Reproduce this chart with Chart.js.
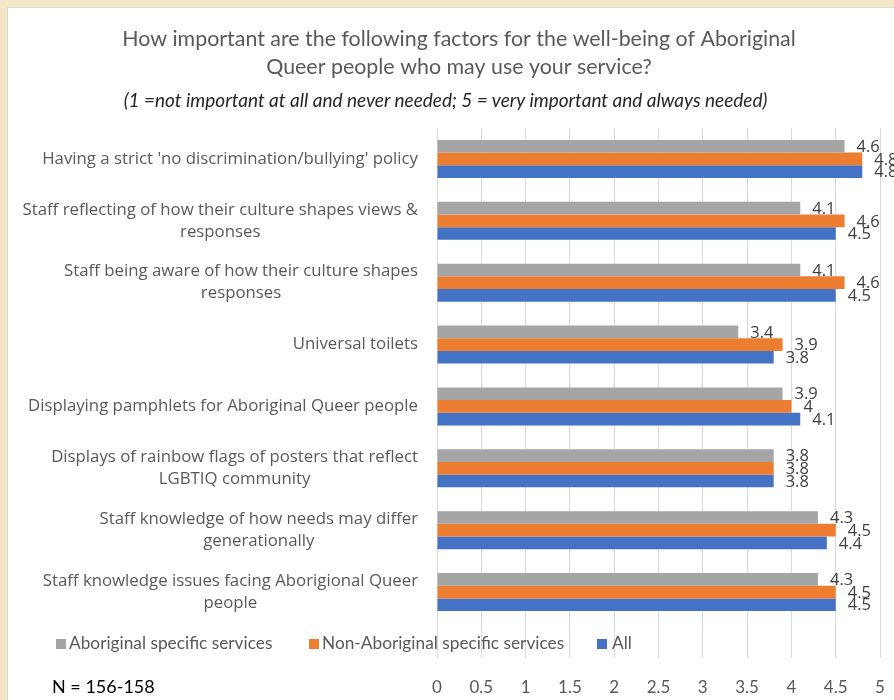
<!DOCTYPE html>
<html>
<head>
<meta charset="utf-8">
<script src="https://cdn.jsdelivr.net/npm/chart.js@4.4.1/dist/chart.umd.min.js"></script>
<style>
  html, body { margin: 0; padding: 0; width: 894px; height: 700px; overflow: hidden; background: #f3e7c6; }
  #card { position: absolute; left: 7px; top: 7px; width: 903px; height: 693px; background: #fff;
          border-left: 1px solid #d9d9d9; border-top: 1px solid #d9d9d9; }
  #card canvas { position: absolute; left: 0; top: 0; }
  #sub { position: absolute; left: 0; top: 89px; width: 891px; text-align: center; white-space: nowrap;
         font: italic 19px Lato, sans-serif; color: #262626; line-height: 22px; }
  .leg { position: absolute; top: 633px; font: 17.3px Lato, sans-serif; color: #595959; white-space: nowrap; line-height: 20px; }
  .sw { position: absolute; top: 639px; width: 10px; height: 10px; }
  #n { position: absolute; left: 52px; top: 675px; font: 18px Lato, sans-serif; color: #000; line-height: 22px; }
</style>
</head>
<body>
<div id="card"><canvas id="chart" width="902" height="692"></canvas></div>
<div id="sub">(1 =not important at all and never needed; 5 = very important and always needed)</div>
<div id="legend"></div>
<div id="n">N = 156-158</div>
<script>
const categories = [
  ["Having a strict 'no discrimination/bullying' policy"],
  ["Staff reflecting of how their culture shapes views &", "responses"],
  ["Staff being aware of how their culture shapes", "responses"],
  ["Universal toilets"],
  ["Displaying pamphlets for Aboriginal Queer people"],
  ["Displays of rainbow flags of posters that reflect", "LGBTIQ community"],
  ["Staff knowledge of how needs may differ", "generationally"],
  ["Staff knowledge issues facing Aborigional Queer", "people"]
];
const seriesNames = ['Aboriginal specific services', 'Non-Aboriginal specific services', 'All'];
const aboriginal    = [4.6, 4.1, 4.1, 3.4, 3.9, 3.8, 4.3, 4.3];
const nonAboriginal = [4.8, 4.6, 4.6, 3.9, 4.0, 3.8, 4.5, 4.5];
const allServices   = [4.8, 4.5, 4.5, 3.8, 4.1, 3.8, 4.4, 4.5];
const xTickLabels = ['0', '0.5', '1', '1.5', '2', '2.5', '3', '3.5', '4', '4.5', '5'];

const colors = ['#a5a5a5', '#ed7d31', '#4472c4'];

// category labels: block right aligned, lines centred inside the block
const categoryLabels = {
  id: 'categoryLabels',
  afterDraw(chart) {
    const ctx = chart.ctx;
    const y = chart.scales.y;
    ctx.save();
    ctx.font = '16.8px "Open Sans", sans-serif';
    ctx.fillStyle = '#595959';
    ctx.textAlign = 'center';
    ctx.textBaseline = 'middle';
    const right = 410;
    categories.forEach((lines, i) => {
      const w = Math.max(...lines.map(l => ctx.measureText(l).width));
      const cx = right - w / 2;
      const cy = y.getPixelForValue(i);
      lines.forEach((l, j) => {
        ctx.fillText(l, cx, cy + (j - (lines.length - 1) / 2) * 22);
      });
    });
    ctx.restore();
  }
};

const valueLabels = {
  id: 'valueLabels',
  afterDatasetsDraw(chart) {
    const ctx = chart.ctx;
    ctx.save();
    ctx.font = '16.5px "Open Sans", sans-serif';
    ctx.fillStyle = '#404040';
    ctx.textAlign = 'left';
    ctx.textBaseline = 'middle';
    chart.data.datasets.forEach((ds, di) => {
      chart.getDatasetMeta(di).data.forEach((bar, i) => {
        ctx.fillText(String(ds.data[i]), bar.x + 12, bar.y + 1);
      });
    });
    ctx.restore();
  }
};

new Chart(document.getElementById('chart'), {
  type: 'bar',
  data: {
    labels: categories.map(c => c.join(' ')),
    datasets: [aboriginal, nonAboriginal, allServices].map((d, i) => ({
      label: seriesNames[i],
      data: d,
      backgroundColor: colors[i],
      borderWidth: 0,
      categoryPercentage: 0.615,
      barPercentage: 1
    }))
  },
  options: {
    indexAxis: 'y',
    responsive: false,
    animation: false,
    layout: { padding: { left: 30, right: 30, top: 0, bottom: 0 } },
    scales: {
      x: {
        min: 0, max: 5,
        afterFit: s => { s.height = 77; },
        border: { display: false },
        grid: { color: '#d9d9d9', lineWidth: 1, tickLength: 35, tickColor: '#d9d9d9' },
        ticks: {
          stepSize: 0.5, autoSkip: false, maxRotation: 0, padding: 19,
          color: '#595959', font: { family: 'Lato', size: 17 },
          callback: (v, i) => xTickLabels[i]
        }
      },
      y: {
        afterFit: s => { s.width = 399; },
        border: { display: false },
        grid: { display: false },
        ticks: { display: false }
      }
    },
    plugins: {
      legend: { display: false },
      tooltip: { enabled: false },
      title: {
        display: true,
        text: ['How important are the following factors for the well-being of Aboriginal',
               'Queer people who may use your service?'],
        color: '#595959',
        font: { family: 'Lato', size: 21.4, weight: 'normal', lineHeight: '28px' },
        padding: { top: 17, bottom: 47 }
      }
    }
  },
  plugins: [categoryLabels, valueLabels]
});

// legend under the plot
const legendPos = [[56, 69], [309, 322], [597, 612]];
const legend = document.getElementById('legend');
seriesNames.forEach((name, i) => {
  const sw = document.createElement('div');
  sw.className = 'sw';
  sw.style.left = legendPos[i][0] + 'px';
  sw.style.background = colors[i];
  legend.appendChild(sw);
  const t = document.createElement('div');
  t.className = 'leg';
  t.style.left = legendPos[i][1] + 'px';
  t.textContent = name;
  legend.appendChild(t);
});
</script>
</body>
</html>
